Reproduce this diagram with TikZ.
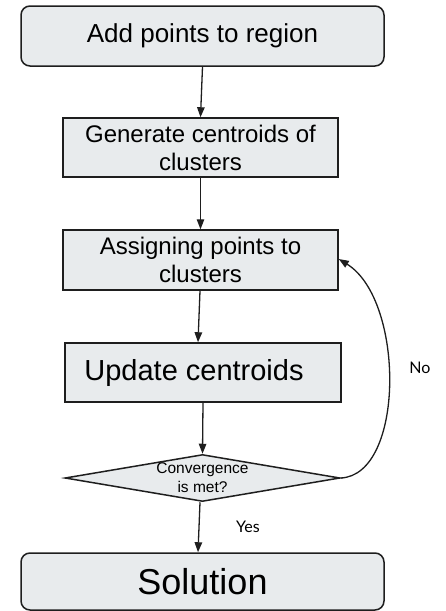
\documentclass[tikz,border=0pt]{standalone}
\usepackage{fontspec}
\setmainfont{Liberation Sans}
\newfontfamily\latofont{Lato}
\usetikzlibrary{shapes.geometric,arrows.meta}
\definecolor{boxfill}{RGB}{232,235,237}
\definecolor{edge}{RGB}{30,30,30}
\tikzset{
  base/.style={draw=edge, line width=1.5pt, fill=boxfill, inner sep=0pt, align=center, text=black},
  roundbox/.style={base, rounded corners=9pt},
  rectbox/.style={base},
  decision/.style={base, diamond, aspect=5.85},
  arr/.style={draw=edge, line width=1.3pt, -{Triangle[length=10pt,width=7.5pt]}},
  lbl/.style={font=\latofont\fontsize{16}{19}\selectfont, text=black}
}
\begin{document}
\begin{tikzpicture}[x=1pt,y=-1pt]
\useasboundingbox (0,0) rectangle (445,611);
\node[roundbox, minimum width=363pt, minimum height=60pt, font=\fontsize{26}{30}\selectfont] (b1) at (202.5,36) {Add points to region};
\node[rectbox, minimum width=275pt, minimum height=59pt, font=\fontsize{24}{28}\selectfont] (b2) at (200.5,147.5) {Generate centroids of\\clusters};
\node[rectbox, minimum width=275pt, minimum height=60pt, font=\fontsize{24}{28}\selectfont] (b3) at (200.5,260) {Assigning points to\\clusters};
\node[rectbox, minimum width=276pt, minimum height=59pt, font=\fontsize{29}{33}\selectfont] (b4) at (203,372.5) {Update centroids\hspace{18pt}};
\node[decision, minimum width=275pt, minimum height=47pt, font=\fontsize{15.5}{19}\selectfont] (d) at (202.5,478) {Convergence\\is met?};
\node[roundbox, minimum width=363pt, minimum height=57pt, font=\fontsize{36}{40}\selectfont] (b5) at (202.5,581.5) {Solution};

\draw[arr] (b1.south) -- (b2.north);
\draw[arr] (b2.south) -- (b3.north);
\draw[arr] ([xshift=-0.5pt]b3.south) -- ([xshift=-5pt]b4.north);
\draw[arr] (b4.south) -- (d.north);
\draw[arr] ([xshift=-2.5pt]d.south) -- ([xshift=-4.5pt]b5.north);
\draw[arr] (d.east) .. controls (405,475) and (405,300) .. ([yshift=1pt]b3.east);

\node[lbl] (yes) at (248,527) {Yes};
\node[lbl] (no) at (420,368) {No};
\end{tikzpicture}
\end{document}
